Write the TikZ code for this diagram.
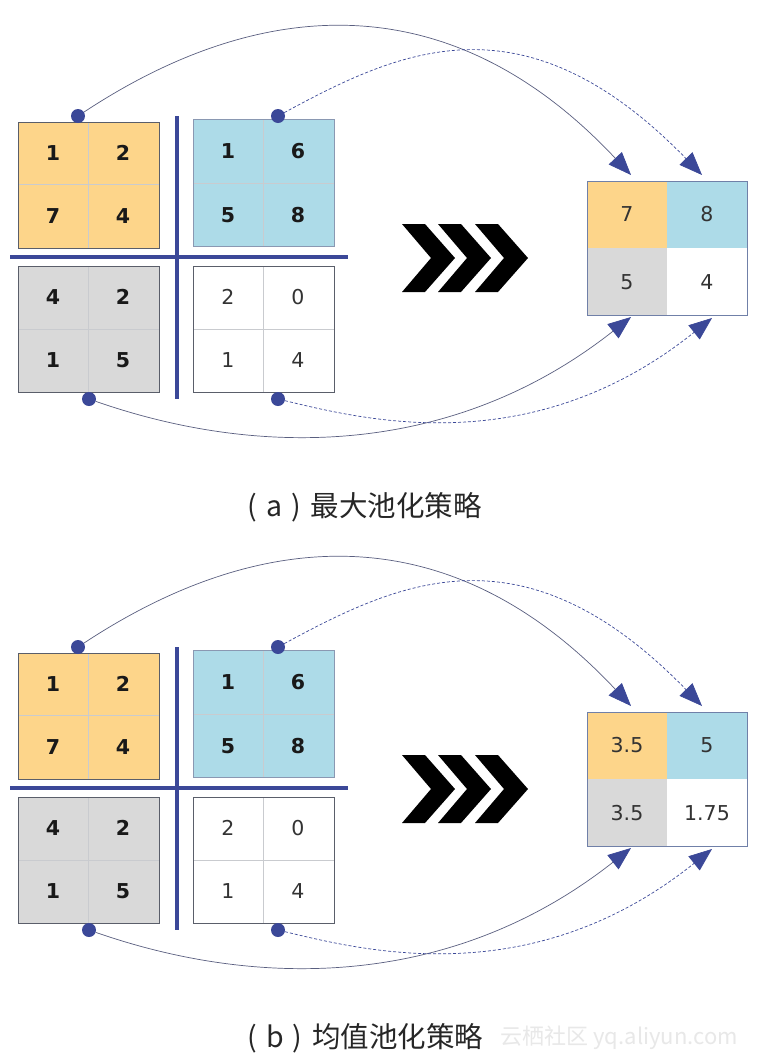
\documentclass[tikz,border=0pt]{standalone}
\usepackage{fontspec}
\setmainfont{DejaVu Sans}
\newfontfamily\cjk{Noto Sans CJK SC}
\usetikzlibrary{arrows.meta}

\definecolor{poolorange}{HTML}{FDD58A}
\definecolor{poolblue}{HTML}{ADDBE8}
\definecolor{poolgray}{HTML}{D9D9D9}
\definecolor{pooldark}{HTML}{3B4898}
\definecolor{cellline}{HTML}{C9CBCF}
\definecolor{gridedge}{HTML}{5A5E6A}
\definecolor{blueedge}{HTML}{8A98B2}
\definecolor{outedge}{HTML}{7080A8}
\definecolor{curveline}{HTML}{5A5F80}

\tikzset{
  numb/.style={font=\fontsize{20.5}{20.5}\selectfont\bfseries, text=black!90},
  numr/.style={font=\fontsize{20.5}{20.5}\selectfont, text=black!80},
  dot/.style={circle, fill=pooldark, inner sep=0pt, minimum size=14pt},
  link/.style={curveline, line width=0.7pt,
    -{Triangle[length=23pt, width=18pt, color=pooldark]}},
  dlink/.style={link, draw=pooldark, dash pattern=on 3pt off 2pt},
}

\begin{document}
\begin{tikzpicture}[x=1pt, y=-1pt]
  \useasboundingbox (0,0) rectangle (759,1061);
  \fill[white] (0,0) rectangle (759,1061);

  \foreach \p/\dy/\ca/\cb/\cc/\cd/\strat in {a/0/7/8/5/4/最大, b/531/3.5/5/3.5/1.75/均值}{
  \begin{scope}[yshift=-\dy pt]
    % 输入特征图：四个 2x2 区域
    \fill[poolorange] (18,122) rectangle (159,248);
    \fill[poolblue] (193,119) rectangle (334,246);
    \fill[poolgray] (18,266) rectangle (159,392);
    \draw[cellline] (88,122) -- (88,248) (18,184) -- (159,184)
                    (263,119) -- (263,246) (193,183) -- (334,183)
                    (88,266) -- (88,392) (18,329) -- (159,329)
                    (263,266) -- (263,392) (193,329) -- (334,329);
    \draw[gridedge] (18,122) rectangle (159,248)
                    (18,266) rectangle (159,392)
                    (193,266) rectangle (334,392);
    \draw[blueedge] (193,119) rectangle (334,246);

    % 分隔线
    \draw[pooldark, line width=4pt] (177,116) -- (177,399);
    \draw[pooldark, line width=4pt] (10,257) -- (348,257);

    % 数值
    \node[numb] (o1\p) at (53,153) {1};
    \node[numb] (o2\p) at (123,153) {2};
    \node[numb] (o3\p) at (53,216) {7};
    \node[numb] (o4\p) at (123,216) {4};
    \node[numb] (b1\p) at (228,151) {1};
    \node[numb] (b2\p) at (298,151) {6};
    \node[numb] (b3\p) at (228,215) {5};
    \node[numb] (b4\p) at (298,215) {8};
    \node[numb] (g1\p) at (53,297) {4};
    \node[numb] (g2\p) at (123,297) {2};
    \node[numb] (g3\p) at (53,360) {1};
    \node[numb] (g4\p) at (123,360) {5};
    \node[numr] (w1\p) at (228,297) {2};
    \node[numr] (w2\p) at (298,297) {0};
    \node[numr] (w3\p) at (228,360) {1};
    \node[numr] (w4\p) at (298,360) {4};

    % 池化结果
    \fill[poolorange] (587,181) rectangle (667,248);
    \fill[poolblue] (667,181) rectangle (747,248);
    \fill[poolgray] (587,248) rectangle (667,315);
    \draw[outedge] (587,181) rectangle (747,315);
    \node[numr] (ra\p) at (627,214) {\ca};
    \node[numr] (rb\p) at (707,214) {\cb};
    \node[numr] (rc\p) at (627,282) {\cc};
    \node[numr] (rd\p) at (707,282) {\cd};

    % 三个箭头形
    \foreach \cx in {402,438,475}
      \fill (\cx,224) -- ++(23,0) -- ++(30,34) -- ++(-30,34) -- ++(-23,0)
            -- ++(29,-34) -- cycle;

    % 端点与连线
    \node[dot] (da\p) at (78,116) {};
    \node[dot] (db\p) at (278,116) {};
    \node[dot] (dc\p) at (89,399) {};
    \node[dot] (dd\p) at (278,399) {};
    \coordinate (ta\p) at (631,175);
    \coordinate (tb\p) at (702,175);
    \coordinate (tc\p) at (631,317);
    \coordinate (td\p) at (712,318);
    \draw[link] (da\p) .. controls (260,-4) and (450,-18) .. (ta\p);
    \draw[dlink] (db\p) .. controls (400,50) and (524,-8) .. (tb\p);
    \draw[link] (dc\p) .. controls (264,460) and (456,455) .. (tc\p);
    \draw[dlink] (dd\p) .. controls (365,420) and (532,462) .. (td\p);

    % 图题
    \node[anchor=west, font=\cjk\fontsize{28.5}{28.5}\selectfont, text=black!85]
      (cap\p) at (244,507) {(\hspace{9pt}\p\hspace{9pt})\hspace{10pt}\strat 池化策略};
  \end{scope}}

  % 水印
  \node[anchor=west, font=\cjk\fontsize{22}{22}\selectfont, text=black!9]
    (mark) at (497,1038) {云栖社区 yq.aliyun.com};
\end{tikzpicture}
\end{document}
